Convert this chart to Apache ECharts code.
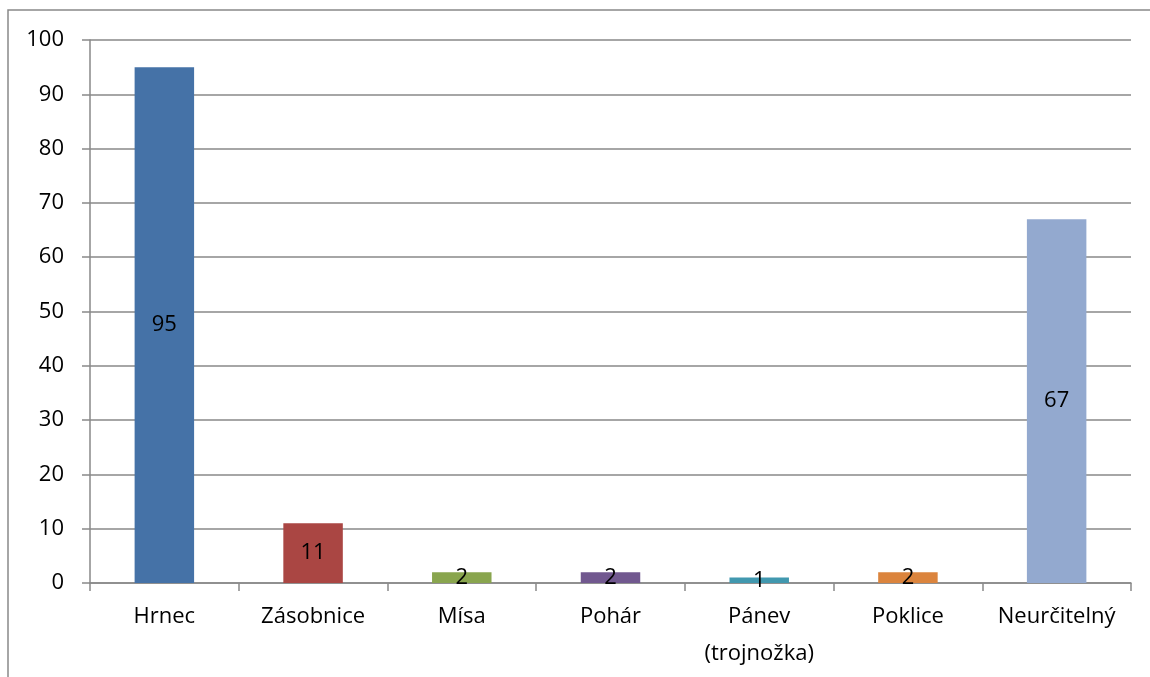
<!DOCTYPE html>
<html>
<head>
<meta charset="utf-8">
<script src="https://cdn.jsdelivr.net/npm/echarts@6/dist/echarts.min.js"></script>
<style>
  html, body { margin: 0; padding: 0; background: #fff; }
  #chart { width: 1150px; height: 677px; }
</style>
</head>
<body>
<div id="chart"></div>
<script>
const categories = ["Hrnec", "Zásobnice", "Mísa", "Pohár", "Pánev\n(trojnožka)", "Poklice", "Neurčitelný"];
const counts = [95, 11, 2, 2, 1, 2, 67];
const barColors = ["#4572A7", "#AA4643", "#89A54E", "#71588F", "#4198AF", "#DB843D", "#93A9CF"];
const yTicks = { min: 0, max: 100, interval: 10 };

const lineGray = "#898989";
const font = "'Open Sans', 'Noto Sans', sans-serif";

const chart = echarts.init(document.getElementById("chart"), null, { renderer: "canvas" });

chart.setOption({
  animation: false,
  backgroundColor: "#fff",
  graphic: [{
    type: "rect",
    shape: { x: 8, y: 10, width: 1300, height: 800 },
    style: { fill: "none", stroke: lineGray, lineWidth: 1.5 },
    silent: true
  }],
  grid: { left: 90, right: 19, top: 40, bottom: 94, containLabel: false },
  xAxis: {
    type: "category",
    data: categories,
    axisLine: { lineStyle: { color: lineGray, width: 1.5 } },
    axisTick: { show: true, length: 8, lineStyle: { color: lineGray, width: 1.5 } },
    axisLabel: { color: "#000", fontFamily: font, fontSize: 22, margin: 15, lineHeight: 37, interval: 0 }
  },
  yAxis: {
    type: "value",
    min: yTicks.min,
    max: yTicks.max,
    interval: yTicks.interval,
    axisLine: { show: true, lineStyle: { color: lineGray, width: 1.5 } },
    axisTick: { show: true, length: 8, lineStyle: { color: lineGray, width: 1.5 } },
    axisLabel: { color: "#000", fontFamily: font, fontSize: 22, margin: 26 },
    splitLine: { lineStyle: { color: lineGray, width: 1.5 } }
  },
  series: [{
    type: "bar",
    data: counts.map((v, i) => ({ value: v, itemStyle: { color: barColors[i] } })),
    barWidth: "40%",
    label: {
      show: true,
      position: "inside",
      color: "#000",
      fontFamily: font,
      fontSize: 22
    }
  }]
});
</script>
</body>
</html>
